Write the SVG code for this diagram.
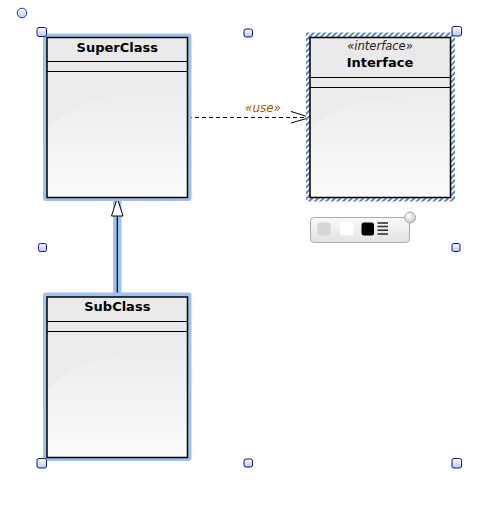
<svg xmlns="http://www.w3.org/2000/svg" width="494" height="508" viewBox="0 0 494 508">
<defs>
  <linearGradient id="body" x1="0" y1="0" x2="0" y2="1">
    <stop offset="0" stop-color="#e4e4e4"/>
    <stop offset="1" stop-color="#fbfbfb"/>
  </linearGradient>
  <linearGradient id="hgrad" x1="0" y1="0" x2="0" y2="1">
    <stop offset="0" stop-color="#ffffff"/>
    <stop offset="1" stop-color="#b4ccee"/>
  </linearGradient>
  <linearGradient id="tb" x1="0" y1="0" x2="0" y2="1">
    <stop offset="0" stop-color="#fafafa"/>
    <stop offset="1" stop-color="#e2e2e2"/>
  </linearGradient>
  <radialGradient id="knob" cx="0.4" cy="0.35" r="0.7">
    <stop offset="0" stop-color="#ffffff"/>
    <stop offset="1" stop-color="#c4c4c4"/>
  </radialGradient>
  <pattern id="hatch" width="4" height="4" patternUnits="userSpaceOnUse" patternTransform="rotate(45)">
    <rect width="4" height="4" fill="#ffffff"/>
    <rect width="2" height="4" fill="#5a84bc"/>
  </pattern>
  <filter id="glow" x="-10%" y="-10%" width="120%" height="120%">
    <feGaussianBlur stdDeviation="0.7"/>
  </filter>
  <style>
    .box { stroke: #000; stroke-width: 1.5; }
    .hdr { fill: #e9e9e9; }
    .sep { stroke: #000; stroke-width: 1.2; }
    .title { font-family: Verdana, "DejaVu Sans", sans-serif; font-weight: bold; font-size: 13px; fill: #000; text-anchor: middle; }
    .stereo { font-family: Verdana, "DejaVu Sans", sans-serif; font-style: italic; font-size: 11.5px; fill: #222; text-anchor: middle; }
    .gloss { fill: #ebebeb; }
    .handle { fill: url(#hgrad); stroke: #10108a; stroke-width: 1; }
    .sel { fill: #9fc2ec; filter: url(#glow); }
  </style>
</defs>
<rect width="494" height="508" fill="#ffffff"/>

<g id="connectors">
  <g id="generalization">
    <rect x="113" y="197" width="8.5" height="100" fill="#99c4f0"/>
    <line x1="117.3" y1="215" x2="117.3" y2="297" stroke="#000" stroke-width="1.2"/>
    <polygon points="117.3,198 111.5,216 123,216" fill="#ffffff" stroke="#000" stroke-width="1"/>
  </g>
  <g id="use-dependency">
    <line x1="188" y1="117.5" x2="309" y2="117.5" stroke="#000" stroke-width="1" stroke-dasharray="4,3"/>
    <polyline points="291,111.5 310,117.5 291,123" fill="none" stroke="#000" stroke-width="1"/>
    <text x="263" y="112" font-family="Verdana, 'DejaVu Sans', sans-serif" font-style="italic" font-size="12" fill="#a8560c" text-anchor="middle">«use»</text>
  </g>
</g>

<g id="SuperClass">
  <rect class="sel" x="43" y="33.5" width="148.5" height="167.5" rx="3"/>
  <rect x="47" y="37.5" width="140.5" height="160" fill="url(#body)"/>
  <path class="gloss" d="M47,71.5 H187.5 V91 C140,91 80,92 47,130 Z"/>
  <rect class="hdr" x="47" y="37.5" width="140.5" height="34"/>
  <rect class="box" x="47" y="37.5" width="140.5" height="160" fill="none"/>
  <line class="sep" x1="47" y1="61.5" x2="187.5" y2="61.5"/>
  <line class="sep" x1="47" y1="71.5" x2="187.5" y2="71.5"/>
  <text class="title" x="117.3" y="51.5">SuperClass</text>
</g>

<g id="Interface">
  <rect x="306" y="32.5" width="149" height="169" fill="url(#hatch)"/>
  <rect x="310" y="37.5" width="140.5" height="160" fill="url(#body)"/>
  <path class="gloss" d="M310,87.5 H450.5 V95 C405,95 340,96 310,130 Z"/>
  <rect class="hdr" x="310" y="37.5" width="140.5" height="50"/>
  <rect class="box" x="310" y="37.5" width="140.5" height="160" fill="none"/>
  <line class="sep" x1="310" y1="77.5" x2="450.5" y2="77.5"/>
  <line class="sep" x1="310" y1="87.5" x2="450.5" y2="87.5"/>
  <text class="stereo" x="380" y="50">«interface»</text>
  <text class="title" x="380" y="67.3">Interface</text>
</g>

<g id="SubClass">
  <rect class="sel" x="43" y="292.5" width="148.5" height="168.5" rx="3"/>
  <rect x="47" y="297" width="140.5" height="160.5" fill="url(#body)"/>
  <path class="gloss" d="M47,331.5 H187.5 V351 C140,351 80,352 47,390 Z"/>
  <rect class="hdr" x="47" y="297" width="140.5" height="34.5"/>
  <rect class="box" x="47" y="297" width="140.5" height="160.5" fill="none"/>
  <line class="sep" x1="47" y1="321.5" x2="187.5" y2="321.5"/>
  <line class="sep" x1="47" y1="331.5" x2="187.5" y2="331.5"/>
  <text class="title" x="117.3" y="311">SubClass</text>
</g>

<g id="toolbar">
  <rect x="310.5" y="217.5" width="99" height="25" rx="3.5" fill="url(#tb)" stroke="#aaaaaa" stroke-width="1"/>
  <rect x="317.5" y="222.5" width="13" height="13" rx="2.5" fill="#d6d6d6"/>
  <rect x="340" y="222.5" width="13.5" height="13" rx="2.5" fill="#ffffff"/>
  <rect x="361.5" y="222.5" width="12.5" height="13" rx="2.5" fill="#000000"/>
  <g stroke="#333" stroke-width="1.6">
    <line x1="377.5" y1="223" x2="388" y2="223"/>
    <line x1="377.5" y1="226.5" x2="388" y2="226.5"/>
    <line x1="377.5" y1="230.2" x2="388" y2="230.2"/>
    <line x1="377.5" y1="234" x2="388" y2="234"/>
  </g>
  <circle cx="410" cy="217.5" r="5.5" fill="url(#knob)" stroke="#aaaaaa" stroke-width="1"/>
</g>

<g id="selection-handles">
  <circle cx="22" cy="13" r="4.8" fill="url(#hgrad)" stroke="#3030a0" stroke-width="1"/>
  <rect class="handle" x="37" y="27.5" width="9.5" height="9" rx="2"/>
  <rect class="handle" x="244" y="29" width="8.5" height="8" rx="2"/>
  <rect class="handle" x="452" y="26.5" width="9.5" height="9.5" rx="2"/>
  <rect class="handle" x="38.5" y="243.5" width="8" height="8" rx="2"/>
  <rect class="handle" x="452" y="243.5" width="8" height="8" rx="2"/>
  <rect class="handle" x="37" y="458.5" width="9.5" height="9.5" rx="2"/>
  <rect class="handle" x="244" y="459" width="8.5" height="8" rx="2"/>
  <rect class="handle" x="452" y="458.5" width="9.5" height="9.5" rx="2"/>
</g>
</svg>
